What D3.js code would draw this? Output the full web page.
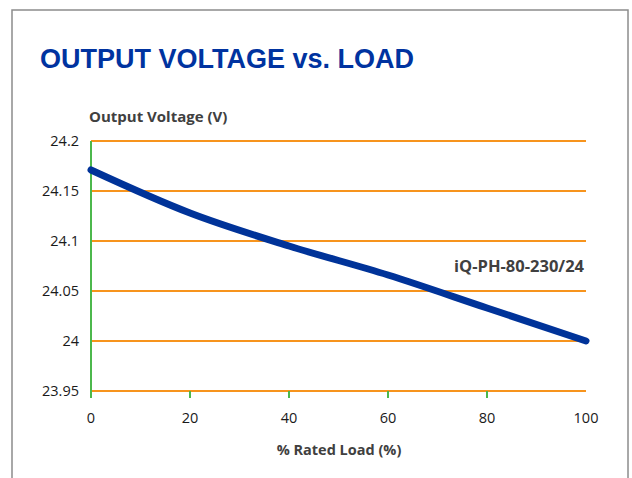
<!DOCTYPE html>
<html lang="en">
<head>
    <meta charset="UTF-8">
    <title>Output voltage vs. load</title>
    <style>
        body { margin: 0; background: #fff; }
        text { font-family: "Open Sans", Lato, sans-serif; }
    </style>
</head>
<script src="https://cdn.jsdelivr.net/npm/d3@7"></script>
<body>
    <div id="chart"></div>
</body>
<script>
const load = [0, 20, 40, 60, 80, 100]
const voltage = [24.171, 24.128, 24.095, 24.066, 24.033, 24.0]
const xTicks = [0, 20, 40, 60, 80, 100]
const yTicks = [23.95, 24, 24.05, 24.1, 24.15, 24.2]
const seriesName = "iQ-PH-80-230/24"

const width = 632
const height = 478
const orange = "#f7941d"
const green = "#4cb84c"
const textColor = "#404040"

const x = d3.scaleLinear().domain([0, 100]).range([91, 586])
const y = d3.scaleLinear().domain([23.95, 24.2]).range([391, 141])

const svg = d3.select("#chart")
    .append("svg")
      .attr("width", width)
      .attr("height", height)

// outer frame
svg.append("rect")
    .attr("x", 12).attr("y", 10)
    .attr("width", 616).attr("height", 480)
    .attr("fill", "none")
    .attr("stroke", "#8c8c8c")
    .attr("stroke-width", 1.5)

svg.append("text")
    .attr("x", 40).attr("y", 68)
    .style("font-family", "'Liberation Sans', Arial, sans-serif")
    .style("font-weight", "bold")
    .style("font-size", "27px")
    .attr("fill", "#0033a0")
    .text("OUTPUT VOLTAGE vs. LOAD")

// horizontal grid
svg.append("g")
    .selectAll("line")
    .data(yTicks)
    .enter()
    .append("line")
    .attr("x1", x(0)).attr("x2", x(100))
    .attr("y1", d => y(d)).attr("y2", d => y(d))
    .attr("stroke", orange)
    .attr("stroke-width", 2)

// y axis labels
svg.append("g")
    .selectAll("text")
    .data(yTicks)
    .enter()
    .append("text")
    .attr("x", 79)
    .attr("y", d => y(d) + 5)
    .attr("text-anchor", "end")
    .style("font-size", "14.5px")
    .attr("fill", "#1a1a1a")
    .text(d => d)

// green y axis and x ticks
svg.append("line")
    .attr("x1", x(0)).attr("x2", x(0))
    .attr("y1", y(24.2)).attr("y2", y(23.95) + 7)
    .attr("stroke", green)
    .attr("stroke-width", 2)

svg.append("g")
    .selectAll("line")
    .data(xTicks.slice(1, -1))
    .enter()
    .append("line")
    .attr("x1", d => x(d)).attr("x2", d => x(d))
    .attr("y1", y(23.95)).attr("y2", y(23.95) + 7)
    .attr("stroke", green)
    .attr("stroke-width", 2)

svg.append("g")
    .selectAll("text")
    .data(xTicks)
    .enter()
    .append("text")
    .attr("x", d => x(d))
    .attr("y", 423)
    .attr("text-anchor", "middle")
    .style("font-size", "14.5px")
    .attr("fill", "#1a1a1a")
    .text(d => d)

// axis titles
svg.append("text")
    .attr("x", 89).attr("y", 122)
    .style("font-size", "15px")
    .style("font-weight", "bold")
    .attr("fill", textColor)
    .text("Output Voltage (V)")

svg.append("text")
    .attr("x", 339).attr("y", 455)
    .attr("text-anchor", "middle")
    .style("font-size", "14.5px")
    .style("font-weight", "bold")
    .attr("fill", textColor)
    .text("% Rated Load (%)")

// series
const pts = load.map((d, i) => [d, voltage[i]])
svg.append("path")
    .datum(pts)
    .attr("fill", "none")
    .attr("stroke", "#003399")
    .attr("stroke-width", 7)
    .attr("stroke-linecap", "round")
    .attr("d", d3.line()
        .x(d => x(d[0]))
        .y(d => y(d[1]))
        .curve(d3.curveMonotoneX))

svg.append("text")
    .attr("x", 584).attr("y", 272)
    .attr("text-anchor", "end")
    .style("font-size", "16.5px")
    .style("font-weight", "bold")
    .attr("fill", textColor)
    .text(seriesName)
</script>
</html>
